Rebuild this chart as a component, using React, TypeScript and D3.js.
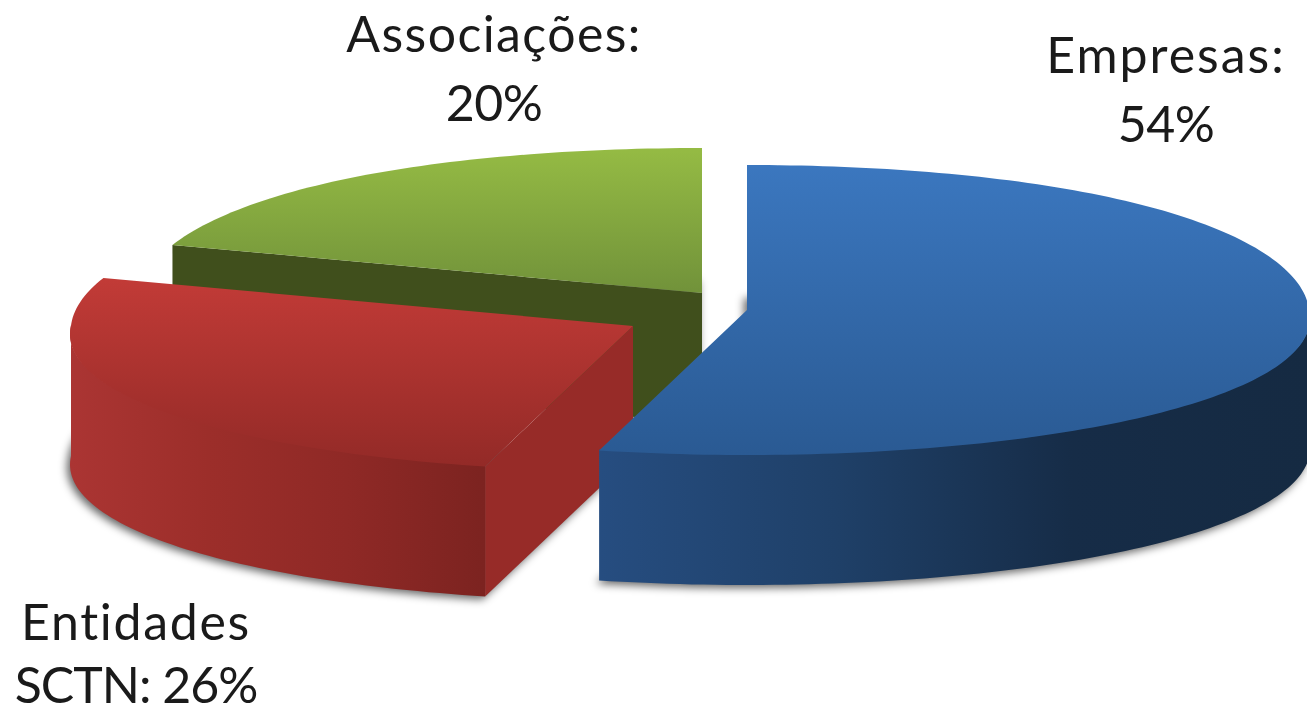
import React from "react";
import * as d3 from "d3";

// Share of each group, clockwise from twelve o'clock
const categories = ["Empresas", "Entidades SCTN", "Associações"];
const shares = [54, 26, 20];
const labelLines = [
  ["Empresas:", "54%"],
  ["Entidades", "SCTN: 26%"],
  ["Associações:", "20%"],
];

const topColors = [
  ["#3b77bf", "#2a5a93"],
  ["#c23b37", "#932a27"],
  ["#95bb44", "#71923a"],
];
const wallColors = [
  ["#264d80", "#1f4068", "#162c47", "#152a42"],
  ["#ab3533", "#9c2e2a", "#8f2926", "#7c2320"],
  ["#404f1c", "#404f1c", "#404f1c", "#404f1c"],
];
const cutColors = ["#1f4068", "#972b28", "#404f1c"];

// Apex of every exploded wedge on the upper face
const apexes = [
  { x: 747, y: 310 },
  { x: 633, y: 326 },
  { x: 702, y: 293 },
];
const labelAnchors = [
  { x: 1166, y: [73, 142] },
  { x: 136, y: [640, 703] },
  { x: 494, y: [52, 121] },
];
const labelSpacing = [
  [2, -0.5],
  [1.7, -1],
  [1.4, -0.5],
];

const RX = 562;
const RY = 145;
const FRONT_SPREAD = 0.06;
const BACK_SPREAD = 0.03;
const BACK_BULGE = 0.08;
const DEPTH = 130;
const WIDTH = 1307;
const HEIGHT = 712;

const pie = d3.pie<number>().sort(null).startAngle(0).endAngle(2 * Math.PI);
const arcs = pie(shares);

// Projects a disc angle onto the tilted plane; nearer points spread wider
const project = (angle: number, apex: { x: number; y: number }, drop = 0): [number, number] => {
  const sin = Math.sin(angle);
  const cos = Math.cos(angle);
  const spread = cos < 0 ? FRONT_SPREAD : BACK_SPREAD;
  const bulge = cos > 0 ? 1 + BACK_BULGE * sin * sin : 1;
  return [apex.x + RX * sin * (1 - spread * cos), apex.y - RY * cos * bulge + drop];
};

const line = d3.line<[number, number]>();
const rimAngles = (a: number, b: number) => {
  const steps = Math.max(2, Math.ceil((b - a) / 0.02));
  return d3.range(steps + 1).map((i) => a + ((b - a) * i) / steps);
};
const rim = (a: number, b: number, apex: { x: number; y: number }, drop = 0) =>
  rimAngles(a, b).map((t) => project(t, apex, drop));

const facePath = (a: number, b: number, apex: { x: number; y: number }, drop = 0) =>
  line([[apex.x, apex.y + drop], ...rim(a, b, apex, drop)]) + "Z";

// The wall's upper edge tucks just under the face so no seam shows
const wallPath = (a: number, b: number, apex: { x: number; y: number }) =>
  line([...rim(a, b, apex, -1), ...rim(a, b, apex, DEPTH).reverse()]) + "Z";

const cutPath = (angle: number, apex: { x: number; y: number }) => {
  const edge = project(angle, apex);
  return (
    line([
      [apex.x, apex.y],
      edge,
      [edge[0], edge[1] + DEPTH],
      [apex.x, apex.y + DEPTH],
    ]) + "Z"
  );
};

export default function App() {
  const paintOrder = [2, 1, 0];
  return (
    <svg
      width={WIDTH}
      height={HEIGHT}
      viewBox={`0 0 ${WIDTH} ${HEIGHT}`}
      style={{ position: "absolute", left: 0, top: 0, background: "#fff" }}
      role="img"
      aria-label={categories.join(", ")}
    >
      <defs>
        <filter id="soft" x="-5%" y="-5%" width="110%" height="115%">
          <feGaussianBlur stdDeviation="4" />
        </filter>
        {arcs.map((_, i) => (
          <React.Fragment key={i}>
            <linearGradient id={`top-${i}`} x1="0" x2="0" y1="0" y2="1">
              <stop offset="0" stopColor={topColors[i][0]} />
              <stop offset="1" stopColor={topColors[i][1]} />
            </linearGradient>
            <linearGradient id={`wall-${i}`} x1="0" x2="1" y1="0" y2="0">
              {wallColors[i].map((c, j) => (
                <stop key={j} offset={j / (wallColors[i].length - 1)} stopColor={c} />
              ))}
            </linearGradient>
          </React.Fragment>
        ))}
      </defs>

      {/* Soft ground shadows beneath the wedges */}
      <g filter="url(#soft)" fill="#000" fillOpacity={0.6}>
        {paintOrder.map((i) => (
          <path
            key={i}
            d={facePath(arcs[i].startAngle, arcs[i].endAngle, apexes[i], DEPTH + 3)}
            transform="translate(-3 0)"
          />
        ))}
      </g>

      {paintOrder.map((i) => {
        const { startAngle, endAngle } = arcs[i];
        const apex = apexes[i];
        const wallFrom = Math.max(startAngle, Math.PI / 2);
        const wallTo = Math.min(endAngle, (3 * Math.PI) / 2);
        const showWall = wallTo > wallFrom;
        const showCut = Math.sin(startAngle) < -1e-6;
        return (
          <g key={categories[i]}>
            {showCut && <path d={cutPath(startAngle, apex)} fill={cutColors[i]} />}
            {showWall && <path d={wallPath(wallFrom, wallTo, apex)} fill={`url(#wall-${i})`} />}
            <path d={facePath(startAngle, endAngle, apex)} fill={`url(#top-${i})`} />
          </g>
        );
      })}

      <g
        fontFamily="Lato, Carlito, sans-serif"
        fontSize={50}
        fill="#1a1a1a"
        textAnchor="middle"
        style={{ fontVariantLigatures: "none" }}
      >
        {labelLines.map((lines, i) =>
          lines.map((text, j) => (
            <text
              key={text}
              x={labelAnchors[i].x}
              y={labelAnchors[i].y[j]}
              letterSpacing={labelSpacing[i][j]}
            >
              {text}
            </text>
          ))
        )}
      </g>
    </svg>
  );
}
